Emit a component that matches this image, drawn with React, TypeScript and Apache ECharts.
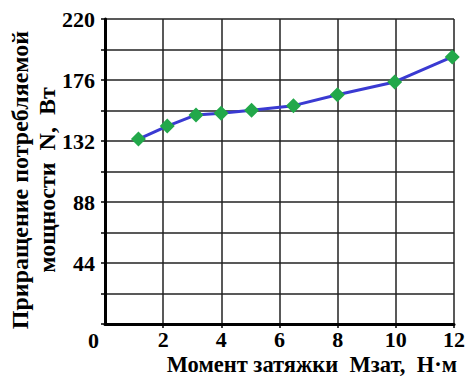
import React, { useEffect, useRef } from "react";
import * as echarts from "echarts";

const xValues = [1.15, 2.14, 3.13, 3.99, 5.04, 6.48, 7.99, 9.96, 11.94];
const yValues = [133.4, 142.8, 150.8, 152, 154.1, 157.5, 165.4, 174.6, 192.6];
const xTitle = "Момент затяжки  Мзат,  Н·м";
const yTitleLine1 = "Приращение потребляемой";
const yTitleLine2 = "мощности  N,  Вт";

const FONT = "Liberation Serif";

export default function App() {
  const ref = useRef<HTMLDivElement>(null);
  useEffect(() => {
    if (!ref.current) return;
    const chart = echarts.init(ref.current, null, { renderer: "svg" });
    chart.setOption({
      animation: false,
      backgroundColor: "#fff",
      grid: { left: 105, right: 17, top: 19, bottom: 52, containLabel: false },
      xAxis: {
        type: "value",
        min: 0,
        max: 12,
        interval: 2,
        axisLine: { show: true, onZero: false, lineStyle: { color: "#000", width: 3 } },
        axisTick: { show: true, length: 4, lineStyle: { color: "#000", width: 1.5 } },
        splitLine: { show: true, lineStyle: { color: "#222", width: 1.5 } },
        axisLabel: {
          showMinLabel: false,
          color: "#000",
          fontFamily: FONT,
          fontWeight: "bold",
          fontSize: 22,
          margin: 4,
        },
      },
      yAxis: {
        type: "value",
        min: 0,
        max: 220,
        interval: 22,
        axisLine: { show: true, lineStyle: { color: "#000", width: 3 } },
        axisTick: { show: true, length: 4, lineStyle: { color: "#000", width: 1.5 } },
        splitLine: { show: true, lineStyle: { color: "#222", width: 1.5 } },
        axisLabel: {
          color: "#000",
          fontFamily: FONT,
          fontWeight: "bold",
          fontSize: 22,
          margin: 10,
          formatter: (v: number) => (v !== 0 && v % 44 === 0 ? String(v) : ""),
        },
      },
      graphic: [
        {
          type: "text",
          left: 88,
          top: 329,
          style: { text: "0", fill: "#000", fontFamily: FONT, fontWeight: "bold", fontSize: 22 },
        },
        {
          type: "text",
          right: 14,
          top: 353,
          style: { text: xTitle, fill: "#000", fontFamily: FONT, fontWeight: "bold", fontSize: 22.5 },
        },
        {
          type: "text",
          x: 20,
          y: 180,
          rotation: Math.PI / 2,
          style: {
            text: yTitleLine1,
            fill: "#000",
            fontFamily: FONT,
            fontWeight: "bold",
            fontSize: 24,
            align: "center",
            verticalAlign: "middle",
          },
        },
        {
          type: "text",
          x: 47,
          y: 180,
          rotation: Math.PI / 2,
          style: {
            text: yTitleLine2,
            fill: "#000",
            fontFamily: FONT,
            fontWeight: "bold",
            fontSize: 24,
            align: "center",
            verticalAlign: "middle",
          },
        },
      ],
      series: [
        {
          type: "line",
          data: xValues.map((x, i) => [x, yValues[i]]),
          lineStyle: { color: "#3a3ad2", width: 3 },
          symbol: "diamond",
          symbolSize: 15,
          itemStyle: { color: "#22a84a" },
          z: 5,
        },
      ],
    });
    return () => chart.dispose();
  }, []);
  return <div ref={ref} style={{ width: 471, height: 376, position: "absolute", left: 0, top: 0 }} />;
}
